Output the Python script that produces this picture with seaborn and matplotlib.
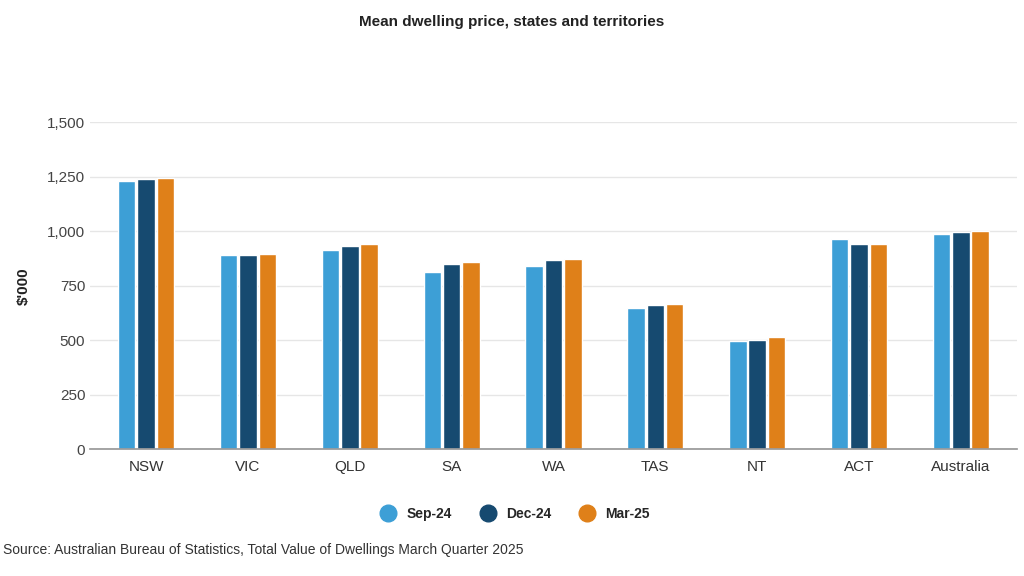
import matplotlib
matplotlib.use("Agg")
import matplotlib.pyplot as plt
import seaborn as sns
import pandas as pd
from matplotlib.lines import Line2D

regions = ["NSW", "VIC", "QLD", "SA", "WA", "TAS", "NT", "ACT", "Australia"]
periods = ["Sep-24", "Dec-24", "Mar-25"]
sep24 = [1230, 892, 912, 815, 840, 647, 497, 962, 985]
dec24 = [1238, 892, 930, 850, 870, 662, 502, 940, 995]
mar25 = [1245, 897, 940, 858, 873, 665, 517, 940, 1002]
colors = ["#3d9fd6", "#164a70", "#df8019"]

df = pd.DataFrame({"region": regions * 3,
                   "period": [p for p in periods for _ in regions],
                   "value": sep24 + dec24 + mar25})

sns.set_theme(style="white")
plt.rcParams["font.family"] = ["Liberation Sans", "DejaVu Sans"]
fig = plt.figure(figsize=(10.24, 5.76), dpi=100)
ax = fig.add_axes([0.088, 0.22, 0.905, 0.568])
sns.barplot(data=df, x="region", y="value", hue="period", palette=colors,
            width=0.57, gap=0.1, saturation=1, ax=ax, legend=False)
ax.set_ylim(0, 1500)
ax.set_yticks(range(0, 1501, 250))
ax.set_yticklabels([f"{v:,}" for v in range(0, 1501, 250)], color="#444444", fontsize=11)
ax.tick_params(axis="x", colors="#333333", labelsize=11, length=0, pad=8)
ax.tick_params(axis="y", length=0)
ax.grid(axis="y", color="#e6e6e6", linewidth=1)
ax.set_axisbelow(True)
for s in ["top", "right", "left"]:
    ax.spines[s].set_visible(False)
ax.spines["bottom"].set_color("#999999")
ax.set_xlabel("")
ax.set_ylabel("$'000", fontsize=11, fontweight="bold", color="#222222", labelpad=12)
ax.set_xlim(-0.55, 8.55)

fig.text(0.5, 0.955, "Mean dwelling price, states and territories", ha="center",
         fontsize=11, fontweight="bold", color="#222222")
handles = [Line2D([], [], marker="o", linestyle="", markersize=12, color=c) for c in colors]
fig.legend(handles, periods, loc="center", bbox_to_anchor=(0.5, 0.108), ncol=3, frameon=False,
           prop={"weight": "bold", "size": 10}, handletextpad=0.3, columnspacing=1.6)
fig.text(0.003, 0.038, "Source: Australian Bureau of Statistics, Total Value of Dwellings March Quarter 2025",
         fontsize=10, color="#333333")
fig.savefig("out.png", dpi=100)
